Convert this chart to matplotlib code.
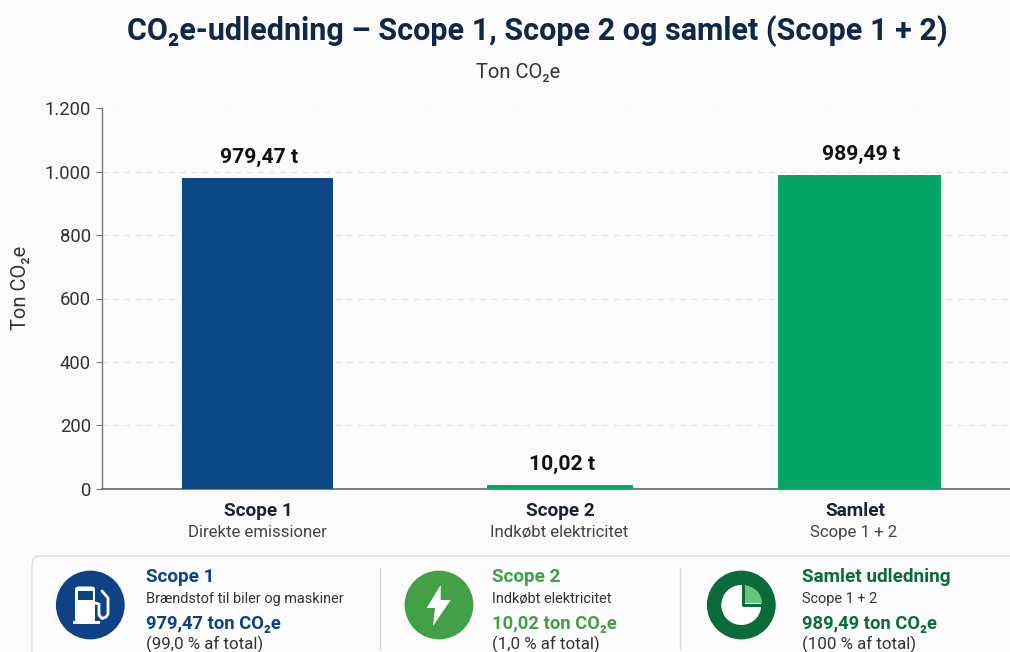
#!/usr/bin/env python
# CO2e chart: Scope 1, Scope 2 and the total, with a summary card below

import matplotlib
matplotlib.use("Agg")
import matplotlib.pyplot as plt
from matplotlib.patches import Circle, FancyBboxPatch, Polygon, Rectangle, Wedge

plt.rcParams["font.family"] = ["Roboto", "DejaVu Sans"]

# ============================================================
# Data
# ============================================================

categories = ["Scope 1", "Scope 2", "Samlet"]
subcategories = ["Direkte emissioner", "Indkøbt elektricitet", "Scope 1 + 2"]
values = [979.47, 10.02, 989.49]
value_labels = ["979,47 t", "10,02 t", "989,49 t"]
y_ticks = [0, 200, 400, 600, 800, 1000, 1200]
y_tick_labels = ["0", "200", "400", "600", "800", "1.000", "1.200"]

card_titles = ["Scope 1", "Scope 2", "Samlet udledning"]
card_subtitles = ["Brændstof til biler og maskiner", "Indkøbt elektricitet", "Scope 1 + 2"]
card_amounts = ["979,47 ton CO₂e", "10,02 ton CO₂e", "989,49 ton CO₂e"]
card_shares = ["(99,0 % af total)", "(1,0 % af total)", "(100 % af total)"]

# ============================================================
# Styles
# ============================================================

BG = "#FBFBFB"
NAVY = "#0F2847"
bar_colors = ["#0B4687", "#04A565", "#04A565"]
bar_widths = [151 / 301, 146 / 301, 163 / 301]
bar_pos = [0, 1.005, 2]
card_colors = ["#0E4285", "#43A047", "#0B6B3A"]

fig = plt.figure(figsize=(10.1, 6.52), dpi=100, facecolor=BG)
W, H = 1010, 652

# chart axes, placed by pixel position
ax = fig.add_axes([102 / W, 1 - 488.5 / H, (W - 102) / W, 380 / H], facecolor="none")
ax.bar(bar_pos, values, width=bar_widths, color=bar_colors, zorder=3)
ax.set_xlim(-0.517, 2.5)
ax.set_ylim(0, 1200)
ax.set_yticks(y_ticks, y_tick_labels, fontsize=13.3, color="#333333")
ax.set_xticks([])
ax.yaxis.grid(True, color="#E4E4E4", linestyle=(0, (5, 5)), linewidth=0.8)
ax.set_axisbelow(True)
for s in ["top", "right"]:
    ax.spines[s].set_visible(False)
ax.spines["left"].set_color("#777777")
ax.spines["bottom"].set_color("#666666")
ax.spines["left"].set_linewidth(1)
ax.spines["bottom"].set_linewidth(1.2)
ax.tick_params(axis="y", length=4, color="#777777", pad=4)

for x, v, lab in zip(bar_pos, values, value_labels):
    ax.annotate(lab, (x + 0.005, v), xytext=(0, 8), textcoords="offset points",
                ha="center", va="bottom", fontsize=15.2, fontweight="bold", color="#111111")

# overlay in pixel coordinates for titles, category labels and the card
ov = fig.add_axes([0, 0, 1, 1], facecolor="none")
ov.set_xlim(0, W)
ov.set_ylim(H, 0)
ov.axis("off")

ov.text(537, 31, "CO₂e-udledning – Scope 1, Scope 2 og samlet (Scope 1 + 2)", ha="center",
        va="center", fontsize=22, fontweight="bold", color=NAVY)
ov.text(518, 72.5, "Ton CO₂e", ha="center", va="center", fontsize=14.5, color="#333333")
ov.text(21, 288, "Ton CO₂e", ha="center", va="center", rotation=90, fontsize=14.5, color="#333333")

for cx, c, sub in zip([258, 560, 855], categories, subcategories):
    ov.text(cx, 510.5, c, ha="center", va="center", fontsize=13.7, fontweight="bold", color="#1A2233")
    ov.text(cx - 1, 532.5, sub, ha="center", va="center", fontsize=12.1, color="#444444")

ov.add_patch(FancyBboxPatch((32, 556), 1100, 200, boxstyle="round,pad=0,rounding_size=9",
                            fc="#FCFCFC", ec="#E2E2E2", lw=1.2))
for x in [380, 680]:
    ov.plot([x, x], [568, 649], color="#D9D9D9", lw=1)

icon_x = [90.3, 439, 741.3]
text_x = [146, 492, 802]
for cx, tx, col, t, s, a, sh in zip(icon_x, text_x, card_colors, card_titles,
                                    card_subtitles, card_amounts, card_shares):
    ov.add_patch(Circle((cx, 605), 34.4, fc=col, ec="none"))
    ov.text(tx, 577, t, ha="left", va="center", fontsize=13.6, fontweight="bold", color=col)
    ov.text(tx, 599, s, ha="left", va="center", fontsize=10.45, color="#333333")
    ov.text(tx, 624, a, ha="left", va="center", fontsize=13.2, fontweight="bold", color=col)
    ov.text(tx, 644, sh, ha="left", va="center", fontsize=12.2, color="#333333")

# fuel pump icon
ov.add_patch(FancyBboxPatch((75, 586.5), 20, 36, boxstyle="round,pad=0,rounding_size=3", fc="white", ec="none"))
ov.add_patch(Rectangle((73, 621), 27, 3.2, fc="white", ec="none"))
ov.add_patch(Rectangle((78, 590.7), 14.7, 9.5, fc=card_colors[0], ec="none"))
ov.plot([95, 99, 99, 102, 106, 108, 108, 102], [603, 604, 615, 618.5, 617, 614, 598, 591],
        color="white", lw=2, solid_capstyle="round")

# lightning icon
ov.add_patch(Polygon([(440.7, 585), (426.7, 608), (435, 608), (433, 626), (450.7, 600), (440.7, 600)],
                     closed=True, fc="white", ec="none"))

# ring icon
ov.add_patch(Circle((741.3, 605), 20, fc="white", ec="none"))
ov.add_patch(Wedge((745, 603), 17, -90, 0, fc="#6CC17E", ec="none"))
ov.plot([743.3, 743.3, 762], [586, 604.8, 604.8], color=card_colors[2], lw=2.2)

fig.savefig("out.png", dpi=100, facecolor=BG)
